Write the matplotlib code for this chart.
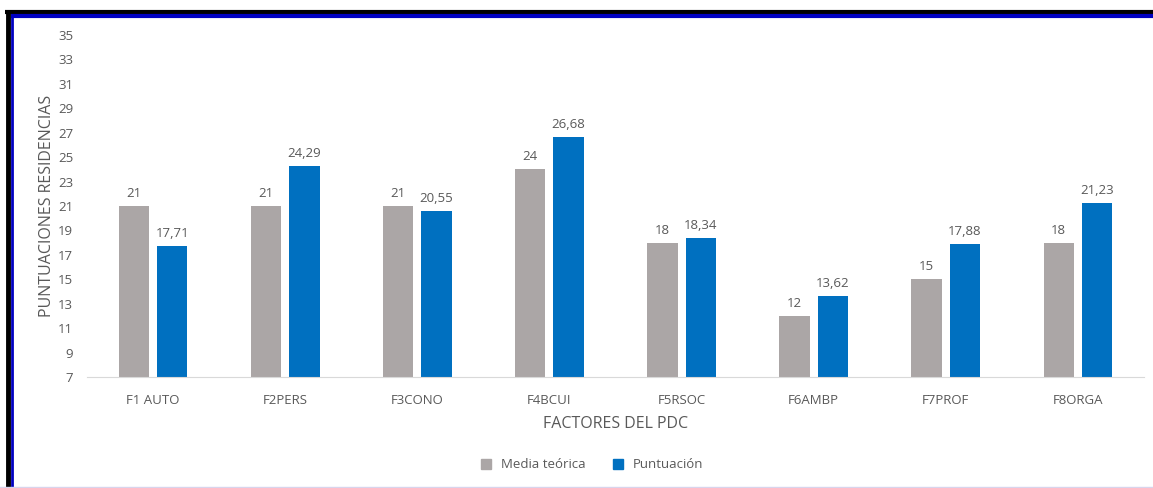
import numpy as np
import matplotlib.pyplot as plt
from matplotlib.lines import Line2D

factores = ['F1 AUTO', 'F2PERS', 'F3CONO', 'F4BCUI', 'F5RSOC', 'F6AMBP', 'F7PROF', 'F8ORGA']
media_teorica = [21, 21, 21, 24, 18, 12, 15, 18]
puntuacion = [17.71, 24.29, 20.55, 26.68, 18.34, 13.62, 17.88, 21.23]

gris = '#ABA6A6'
azul = '#0070C0'
texto = '#595959'

plt.rcParams['font.family'] = ['Open Sans', 'DejaVu Sans']

fig = plt.figure(figsize=(11.53, 4.88), dpi=100)
ax = fig.add_axes([87 / 1153, 1 - 377 / 488, (1144 - 87) / 1153, (377 - 35) / 488])

x = np.arange(len(factores))
w = 0.23
ax.bar(x - 0.145, np.array(media_teorica) - 7, w, bottom=7, color=gris, label='Media teórica')
ax.bar(x + 0.145, np.array(puntuacion) - 7, w, bottom=7, color=azul, label='Puntuación')

def fmt(v):
    return f'{v:g}'.replace('.', ',')

for xi, v in zip(x, media_teorica):
    ax.text(xi - 0.145, v + 0.5, fmt(v), ha='center', va='bottom', fontsize=9.5, color=texto)
for xi, v in zip(x, puntuacion):
    ax.text(xi + 0.145, v + 0.5, fmt(v), ha='center', va='bottom', fontsize=9.5, color=texto)

ax.set_ylim(7, 35)
ax.set_xlim(-0.5, len(factores) - 0.5)
ax.set_yticks(np.arange(7, 36, 2))
ax.set_xticks(x)
ax.set_xticklabels(factores)
ax.tick_params(axis='both', length=0, labelsize=9.5, colors=texto)
ax.tick_params(axis='x', pad=12)
ax.tick_params(axis='y', pad=10)
for s in ['top', 'right', 'left']:
    ax.spines[s].set_visible(False)
ax.spines['bottom'].set_color('#D9D9D9')

ax.set_ylabel('PUNTUACIONES RESIDENCIAS', fontsize=11.5, color=texto, labelpad=2)
ax.set_xlabel('FACTORES DEL PDC', fontsize=11.5, color=texto, labelpad=7)

handles = [Line2D([], [], marker='s', ls='', color=gris, markersize=7),
           Line2D([], [], marker='s', ls='', color=azul, markersize=7)]
fig.legend(handles, ['Media teórica', 'Puntuación'], loc='center', bbox_to_anchor=(0.51, 1 - 465 / 488),
           ncol=2, frameon=False, fontsize=9.5, labelcolor=texto, handletextpad=0.1, columnspacing=1.5)

# marco de la imagen
tf = fig.transFigure
fig.add_artist(Line2D([5 / 1153, 1], [1 - 11.5 / 488] * 2, color='black', lw=3, transform=tf, solid_capstyle='butt'))
fig.add_artist(Line2D([11 / 1153, 1], [1 - 16 / 488] * 2, color='#0000C0', lw=3, transform=tf, solid_capstyle='butt'))
fig.add_artist(Line2D([7.5 / 1153] * 2, [0, 1 - 10 / 488], color='black', lw=3.5, transform=tf, solid_capstyle='butt'))
fig.add_artist(Line2D([12 / 1153] * 2, [0, 1 - 14 / 488], color='#0000C0', lw=2, transform=tf, solid_capstyle='butt'))
fig.add_artist(Line2D([0, 1], [1.5 / 488] * 2, color='#D8D4EC', lw=1, transform=tf))

fig.savefig('out.png', dpi=100)
